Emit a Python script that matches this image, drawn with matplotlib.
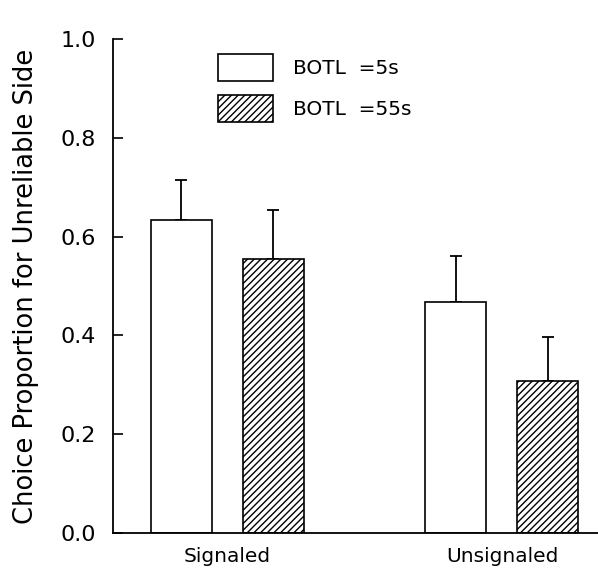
import numpy as np
import matplotlib
matplotlib.use('Agg')
import matplotlib.pyplot as plt

groups = ['Signaled', 'Unsignaled']
series = ['BOTL  =5s', 'BOTL  =55s']
means_5s = [0.634, 0.468]
err_5s = [0.081, 0.093]
means_55s = [0.555, 0.308]
err_55s = [0.099, 0.089]

plt.rcParams['font.family'] = 'DejaVu Sans'
fig = plt.figure(figsize=(5.98, 5.71), dpi=100)
ax = fig.add_axes([0.189, 0.0666, 0.811, 0.8651])

x = np.arange(len(groups))
w = 0.222
off = 0.1676
ax.bar(x - off, means_5s, w, color='white', edgecolor='black', linewidth=1.2,
       label=series[0], zorder=2)
ax.bar(x + off, means_55s, w, color='white', edgecolor='black', linewidth=1.2,
       hatch='/////', label=series[1], zorder=2)
ax.errorbar(x - off, means_5s, yerr=[np.zeros(2), err_5s], fmt='none',
            ecolor='black', elinewidth=1.3, capsize=4, capthick=1.3, zorder=1)
ax.errorbar(x + off, means_55s, yerr=[np.zeros(2), err_55s], fmt='none',
            ecolor='black', elinewidth=1.3, capsize=4, capthick=1.3, zorder=1)

ax.set_xlim(-0.417, 1.35)
ax.set_ylim(0, 1.0)
ax.set_yticks([0, 0.2, 0.4, 0.6, 0.8, 1.0])
ax.set_yticklabels(['0.0', '0.2', '0.4', '0.6', '0.8', '1.0'])
ax.set_xticks(x)
ax.set_xticklabels(groups, fontsize=14.5)
ax.tick_params(axis='x', length=0, pad=10)
ax.tick_params(axis='y', direction='in', length=7, width=1.2, labelsize=16, pad=12)
ax.spines['top'].set_visible(False)
ax.spines['right'].set_visible(False)
ax.spines['left'].set_linewidth(1.3)
ax.spines['bottom'].set_linewidth(1.3)
ax.set_ylabel('Choice Proportion for Unreliable Side', fontsize=18.5, labelpad=16)

ax.legend(loc='upper left', bbox_to_anchor=(0.2, 0.985), frameon=False,
          fontsize=14.5, handlelength=2.75, handleheight=1.65, handletextpad=0.95,
          labelspacing=0.7, borderaxespad=0)

fig.savefig('out.png', dpi=100)
